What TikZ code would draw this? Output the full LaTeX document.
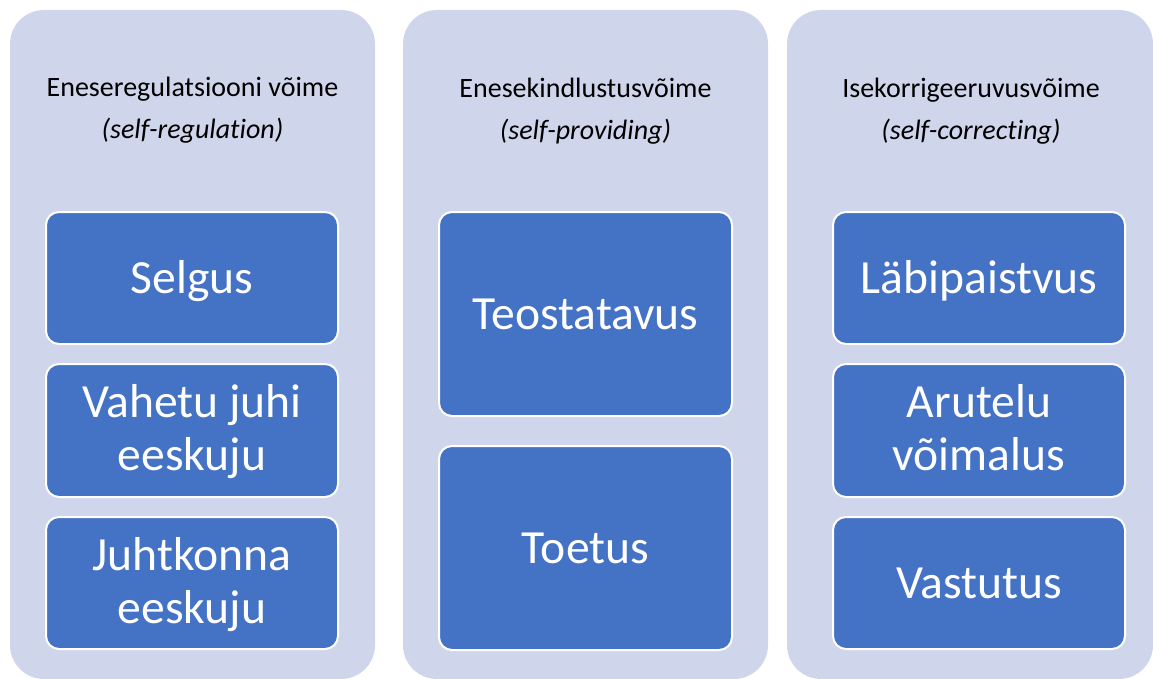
\documentclass[tikz,border=0pt]{standalone}
\usepackage{fontspec}
\setmainfont{Carlito}[Ligatures=NoCommon]
\definecolor{outerfill}{HTML}{CFD5EA}
\definecolor{innerblue}{HTML}{4472C4}
\begin{document}
\begin{tikzpicture}[x=1pt,y=-1pt,
  outerbox/.style={fill=outerfill, rounded corners=34pt, inner sep=0pt, outer sep=0pt, anchor=north west, minimum height=669pt},
  bluebox/.style={fill=innerblue, draw=white, line width=2pt, rounded corners=13pt, inner sep=0pt, outer sep=0pt, anchor=north west},
  head/.style={font=\fontsize{28}{33}\selectfont, text=black, anchor=base, inner sep=0pt},
  lbl/.style={font=\fontsize{47.6}{54}\selectfont, text=white, anchor=base, inner sep=0pt}]
\useasboundingbox (0,0) rectangle (1153,679);
% outer columns
\node[outerbox, minimum width=365pt] (c1) at (10,10) {};
\node[outerbox, minimum width=365pt] (c2) at (403,10) {};
\node[outerbox, minimum width=366pt] (c3) at (787,10) {};
% headers
\node[head] (h1a) at (192.5,97) {Eneseregulatsiooni võime};
\node[head] (h1b) at (192.5,139) {\itshape (self-regulation)};
\node[head] (h2a) at (585.5,98) {Enesekindlustusvõime};
\node[head] (h2b) at (585.5,140) {\itshape (self-providing)};
\node[head] (h3a) at (971,98) {Isekorrigeeruvusvõime};
\node[head] (h3b) at (971,140) {\itshape (self-correcting)};
% column 1 boxes
\node[bluebox, minimum width=292pt, minimum height=132pt] (a1) at (46,212) {};
\node[bluebox, minimum width=292pt, minimum height=133pt] (a2) at (46,364) {};
\node[bluebox, minimum width=292pt, minimum height=132pt] (a3) at (46,517) {};
% column 2 boxes
\node[bluebox, minimum width=293pt, minimum height=204pt] (b1) at (439,212) {};
\node[bluebox, minimum width=293pt, minimum height=204pt] (b2) at (439,446) {};
% column 3 boxes
\node[bluebox, minimum width=292pt, minimum height=132pt] (d1) at (833,212) {};
\node[bluebox, minimum width=292pt, minimum height=133pt] (d2) at (833,364) {};
\node[bluebox, minimum width=292pt, minimum height=132pt] (d3) at (833,517) {};
% labels
\node[lbl] (a1t) at ([yshift=-15pt]a1.center) {Selgus};
\node[lbl] (a2t1) at ([yshift=13pt]a2.center) {Vahetu juhi};
\node[lbl] (a2t2) at ([yshift=-40pt]a2.center) {eeskuju};
\node[lbl] (a3t1) at ([yshift=13pt]a3.center) {Juhtkonna};
\node[lbl] (a3t2) at ([yshift=-40pt]a3.center) {eeskuju};
\node[lbl] (b1t) at ([yshift=-15pt]b1.center) {Teostatavus};
\node[lbl] (b2t) at ([yshift=-15pt]b2.center) {Toetus};
\node[lbl] (d1t) at ([yshift=-15pt]d1.center) {Läbipaistvus};
\node[lbl] (d2t1) at ([yshift=13pt]d2.center) {Arutelu};
\node[lbl] (d2t2) at ([yshift=-40pt]d2.center) {võimalus};
\node[lbl] (d3t) at ([yshift=-15pt]d3.center) {Vastutus};
\end{tikzpicture}
\end{document}
